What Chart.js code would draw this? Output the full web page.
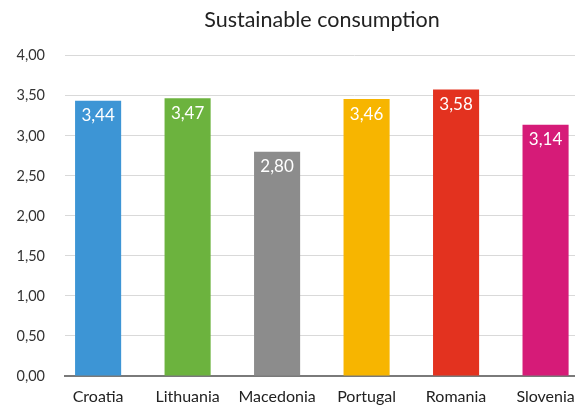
<!DOCTYPE html>
<html>
<head>
<meta charset="utf-8">
<script src="https://cdn.jsdelivr.net/npm/chart.js@4/dist/chart.umd.min.js"></script>
<style>
  html, body { margin: 0; padding: 0; background: #fff; overflow: hidden; }
  canvas { display: block; }
</style>
</head>
<body>
<canvas id="myChart" width="644" height="407"></canvas>
<script>
const countries = ['Croatia', 'Lithuania', 'Macedonia', 'Portugal', 'Romania', 'Slovenia'];
const scores = [3.44, 3.47, 2.80, 3.46, 3.58, 3.14];
const barColors = ['#3d95d5', '#6cb33e', '#8c8c8c', '#f7b500', '#e3321f', '#d61b78'];
const yTicks = [0, 0.5, 1, 1.5, 2, 2.5, 3, 3.5, 4];

const comma = v => v.toFixed(2).replace('.', ',');

// white value text near the top of each bar
const valueLabels = {
   id: 'valueLabels',
   afterDatasetsDraw(chart) {
      const ctx = chart.ctx;
      const meta = chart.getDatasetMeta(0);
      ctx.save();
      ctx.font = '17px Lato';
      ctx.fillStyle = '#fff';
      ctx.textAlign = 'center';
      ctx.textBaseline = 'middle';
      meta.data.forEach((bar, i) => {
         ctx.fillText(comma(scores[i]), bar.x, bar.y + 15);
      });
      ctx.restore();
   }
};

const data = {
   datasets: [{
      label: 'Sustainable consumption',
      data: scores.map((v, i) => ({x: i, y: v})),
      backgroundColor: barColors,
      borderWidth: 0,
      barPercentage: 0.515,
      categoryPercentage: 1
   }]
};

const config = {
   type: 'bar',
   data: data,
   options: {
      responsive: false,
      animation: false,
      layout: { padding: 0 },
      plugins: {
         legend: { display: false },
         tooltip: { enabled: false },
         title: {
            display: true,
            text: 'Sustainable consumption',
            color: '#222',
            font: { family: 'Lato', size: 21.5, weight: 'normal' },
            padding: { top: 7, bottom: 23 }
         }
      },
      scales: {
         x: {
            type: 'linear',
            offset: false,
            min: -0.37,
            max: 6.1,
            grid: { display: false },
            border: { color: '#7a7a7a', width: 2 },
            afterFit: s => { s.height = 31; },
            ticks: {
               stepSize: 1,
               includeBounds: false,
               autoSkip: false,
               maxRotation: 0,
               padding: 3,
               color: '#222',
               font: { family: 'Lato', size: 16 },
               callback: v => countries[v] || ''
            }
         },
         y: {
            min: 0,
            max: 4,
            afterFit: s => { s.width = 65; },
            afterBuildTicks: s => { s.ticks = yTicks.map(v => ({value: v})); },
            grid: { color: '#d9d9d9', drawTicks: false },
            border: { display: false },
            ticks: {
               padding: 20,
               color: '#333',
               font: { family: 'Lato', size: 14.5 },
               callback: v => comma(v)
            }
         }
      }
   },
   plugins: [valueLabels]
};

const myChart = new Chart(document.getElementById('myChart'), config);
</script>
</body>
</html>
